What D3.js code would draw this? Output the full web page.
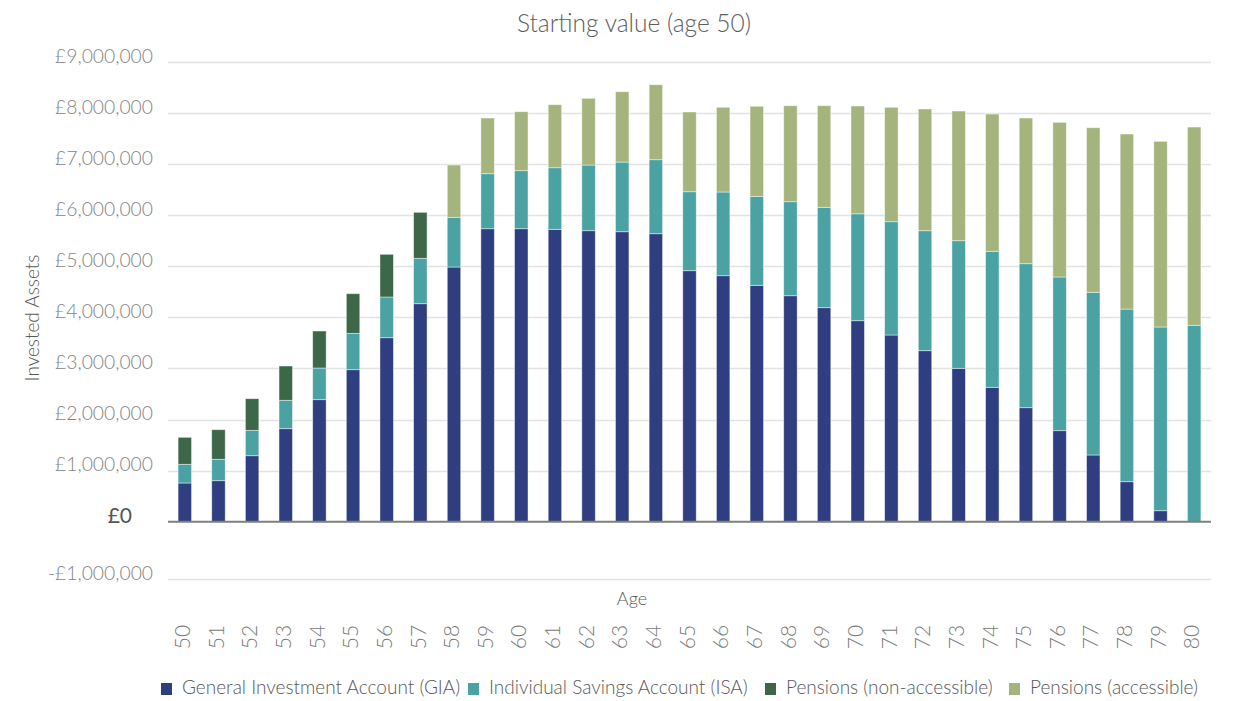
<!DOCTYPE html>
<html>
<head>
<meta charset="utf-8">
<script src="https://d3js.org/d3.v7.min.js"></script>
<style>
  body { margin: 0; background: #fff; }
  svg { display: block; font-family: Lato, "Open Sans", sans-serif; }
  .grid line { stroke: #e3e3e3; stroke-width: 1.3; }
  .ytick { fill: #858585; font-size: 19.3px; font-weight: 300; }
  .xtick { fill: #7a7a7a; font-size: 21px; font-weight: 300; }
  .lbl { fill: #595959; font-size: 18px; font-weight: 300; }
</style>
</head>
<body>
<svg id="chart" width="1237" height="701"></svg>
<script>
// values, in pounds
const ages = d3.range(50, 81).map(String);
const gia    = [758e3, 803e3, 1292e3, 1821e3, 2389e3, 2976e3, 3602e3, 4268e3, 4986e3, 5736e3, 5736e3, 5724e3, 5697e3, 5677e3, 5638e3, 4914e3, 4816e3, 4628e3, 4424e3, 4190e3, 3935e3, 3655e3, 3348e3, 3003e3, 2631e3, 2232e3, 1782e3, 1306e3, 783e3, 215e3, 0];
const isa    = [366e3, 419e3, 497e3, 556e3, 620e3, 712e3, 797e3, 889e3, 973e3, 1077e3, 1136e3, 1206e3, 1286e3, 1364e3, 1449e3, 1546e3, 1639e3, 1742e3, 1841e3, 1965e3, 2093e3, 2218e3, 2349e3, 2498e3, 2663e3, 2819e3, 3009e3, 3185e3, 3380e3, 3597e3, 3845e3];
const pensNA = [528e3, 579e3, 619e3, 671e3, 724e3, 776e3, 836e3, 900e3, 0, 0, 0, 0, 0, 0, 0, 0, 0, 0, 0, 0, 0, 0, 0, 0, 0, 0, 0, 0, 0, 0, 0];
const pensA  = [0, 0, 0, 0, 0, 0, 0, 0, 1024e3, 1090e3, 1155e3, 1234e3, 1306e3, 1377e3, 1468e3, 1561e3, 1658e3, 1763e3, 1879e3, 1989e3, 2110e3, 2240e3, 2383e3, 2539e3, 2687e3, 2852e3, 3028e3, 3222e3, 3427e3, 3635e3, 3881e3];

const seriesKeys  = ["gia", "isa", "pensNA", "pensA"];
const seriesNames = ["General Investment Account (GIA)", "Individual Savings Account (ISA)", "Pensions (non-accessible)", "Pensions (accessible)"];
const colors      = ["#2f3e80", "#4aa2a2", "#3c6849", "#a5b47c"];
const yTicks = [-1e6, 0, 1e6, 2e6, 3e6, 4e6, 5e6, 6e6, 7e6, 8e6, 9e6];

const rows = ages.map((a, i) => ({age: a, gia: gia[i], isa: isa[i], pensNA: pensNA[i], pensA: pensA[i]}));

const svg = d3.select("#chart");

const x = d3.scaleBand().domain(ages).range([168, 1211]).paddingInner(0.6).paddingOuter(0.3);
// the reference leaves a wider gap below zero, so the scale is piecewise
const y = d3.scaleLinear().domain([-1e6, 0, 9e6]).range([579, 521.7, 62]);

const fmt = v => (v < 0 ? "-" : "") + "£" + d3.format(",")(Math.abs(v));

// gridlines
svg.append("g").attr("class", "grid")
  .selectAll("line").data(yTicks.filter(d => d !== 0)).join("line")
  .attr("x1", 168).attr("x2", 1211)
  .attr("y1", d => Math.round(y(d)) + 0.5).attr("y2", d => Math.round(y(d)) + 0.5);

// y tick labels
svg.append("g").selectAll("text").data(yTicks.filter(d => d !== 0)).join("text")
  .attr("class", "ytick")
  .attr("x", 153).attr("y", d => y(d) - 4)
  .attr("text-anchor", "end").attr("dominant-baseline", "middle")
  .text(fmt);

svg.append("text")
  .attr("x", 132).attr("y", y(0) - 4)
  .attr("text-anchor", "end").attr("dominant-baseline", "middle")
  .style("font-size", "21px").style("fill", "#555").style("font-weight", 400)
  .text("£0");

// stacked bars
const stack = d3.stack().keys(seriesKeys)(rows);
svg.append("g").selectAll("g").data(stack).join("g")
  .attr("fill", (d, i) => colors[i])
  .selectAll("rect").data(d => d.filter(p => p[1] - p[0] > 0)).join("rect")
  .attr("x", d => x(d.data.age))
  .attr("width", x.bandwidth())
  .attr("y", d => y(d[1]))
  .attr("height", d => y(d[0]) - y(d[1]))
  .attr("stroke", "rgba(255,255,255,0.55)")
  .attr("stroke-width", 0.8);

// zero line
svg.append("line")
  .attr("x1", 168).attr("x2", 1211)
  .attr("y1", y(0)).attr("y2", y(0))
  .attr("stroke", "#7f7f7f").attr("stroke-width", 2);

// x tick labels, rotated
svg.append("g").selectAll("text").data(ages).join("text")
  .attr("class", "xtick")
  .attr("transform", d => `translate(${x(d) + x.bandwidth() / 2},637) rotate(-90)`)
  .attr("text-anchor", "middle").attr("dominant-baseline", "middle")
  .text(d => d);

// titles
svg.append("text")
  .attr("x", 634).attr("y", 26)
  .attr("text-anchor", "middle").attr("dominant-baseline", "middle")
  .style("font-size", "24.5px").style("fill", "#5e5e5e").style("font-weight", 300)
  .text("Starting value (age 50)");

svg.append("text").attr("class", "lbl")
  .attr("x", 632).attr("y", 601)
  .attr("text-anchor", "middle").attr("dominant-baseline", "middle")
  .text("Age");

svg.append("text").attr("class", "lbl")
  .attr("transform", "translate(34,318) rotate(-90)")
  .attr("text-anchor", "middle").attr("dominant-baseline", "middle")
  .style("font-size", "19px")
  .text("Invested Assets");

// legend
const legendX = [161, 468, 765, 1009];
const lg = svg.append("g").selectAll("g").data(seriesNames).join("g")
  .attr("transform", (d, i) => `translate(${legendX[i]},683)`);
lg.append("rect").attr("width", 11).attr("height", 12).attr("fill", (d, i) => colors[i]);
lg.append("text").attr("class", "lbl")
  .attr("x", 21).attr("y", 6.5)
  .attr("dominant-baseline", "middle")
  .style("font-size", "19px")
  .text(d => d);
</script>
</body>
</html>
